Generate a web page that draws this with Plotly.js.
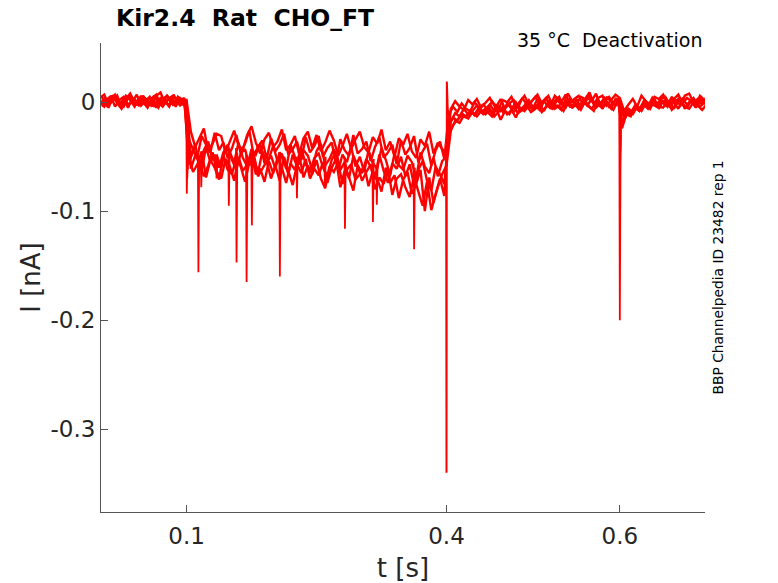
<!DOCTYPE html>
<html>
<head>
<meta charset="utf-8">
<script src="https://cdn.plot.ly/plotly-3.0.1.min.js"></script>
<style>body{margin:0;background:#fff}</style>
</head>
<body>
<div id="chart" style="width:778px;height:583px"></div>
<script>
// sample times [s] of the two interleaved acquisition grids, one row = 10 samples
var tA = [
  0, 0.005, 0.01, 0.015, 0.02, 0.025, 0.03, 0.035, 0.04, 0.045,
  0.05, 0.055, 0.06, 0.065, 0.07, 0.075, 0.08, 0.085, 0.09, 0.095,
  0.1, 0.105, 0.11, 0.115, 0.12, 0.125, 0.13, 0.135, 0.14, 0.145,
  0.15, 0.155, 0.16, 0.165, 0.17, 0.175, 0.18, 0.185, 0.19, 0.195,
  0.2, 0.205, 0.21, 0.215, 0.22, 0.225, 0.23, 0.235, 0.24, 0.245,
  0.25, 0.255, 0.26, 0.265, 0.27, 0.275, 0.28, 0.285, 0.29, 0.295,
  0.3, 0.305, 0.31, 0.315, 0.32, 0.325, 0.33, 0.335, 0.34, 0.345,
  0.35, 0.355, 0.36, 0.365, 0.37, 0.375, 0.38, 0.385, 0.39, 0.395,
  0.4, 0.405, 0.41, 0.415, 0.42, 0.425, 0.43, 0.435, 0.44, 0.445,
  0.45, 0.455, 0.46, 0.465, 0.47, 0.475, 0.48, 0.485, 0.49, 0.495,
  0.5, 0.505, 0.51, 0.515, 0.52, 0.525, 0.53, 0.535, 0.54, 0.545,
  0.55, 0.555, 0.56, 0.565, 0.57, 0.575, 0.58, 0.585, 0.59, 0.595,
  0.6, 0.605, 0.61, 0.615, 0.62, 0.625, 0.63, 0.635, 0.64, 0.645,
  0.65, 0.655, 0.66, 0.665, 0.67, 0.675, 0.68, 0.685, 0.69, 0.695,
  0.7
];
var tB = [
  0.0025, 0.0075, 0.0125, 0.0175, 0.0225, 0.0275, 0.0325, 0.0375, 0.0425, 0.0475,
  0.0525, 0.0575, 0.0625, 0.0675, 0.0725, 0.0775, 0.0825, 0.0875, 0.0925, 0.0975,
  0.1025, 0.1075, 0.1125, 0.1175, 0.1225, 0.1275, 0.1325, 0.1375, 0.1425, 0.1475,
  0.1525, 0.1575, 0.1625, 0.1675, 0.1725, 0.1775, 0.1825, 0.1875, 0.1925, 0.1975,
  0.2025, 0.2075, 0.2125, 0.2175, 0.2225, 0.2275, 0.2325, 0.2375, 0.2425, 0.2475,
  0.2525, 0.2575, 0.2625, 0.2675, 0.2725, 0.2775, 0.2825, 0.2875, 0.2925, 0.2975,
  0.3025, 0.3075, 0.3125, 0.3175, 0.3225, 0.3275, 0.3325, 0.3375, 0.3425, 0.3475,
  0.3525, 0.3575, 0.3625, 0.3675, 0.3725, 0.3775, 0.3825, 0.3875, 0.3925, 0.3975,
  0.4025, 0.4075, 0.4125, 0.4175, 0.4225, 0.4275, 0.4325, 0.4375, 0.4425, 0.4475,
  0.4525, 0.4575, 0.4625, 0.4675, 0.4725, 0.4775, 0.4825, 0.4875, 0.4925, 0.4975,
  0.5025, 0.5075, 0.5125, 0.5175, 0.5225, 0.5275, 0.5325, 0.5375, 0.5425, 0.5475,
  0.5525, 0.5575, 0.5625, 0.5675, 0.5725, 0.5775, 0.5825, 0.5875, 0.5925, 0.5975,
  0.6025, 0.6075, 0.6125, 0.6175, 0.6225, 0.6275, 0.6325, 0.6375, 0.6425, 0.6475,
  0.6525, 0.6575, 0.6625, 0.6675, 0.6725, 0.6775, 0.6825, 0.6875, 0.6925, 0.6975,
  0.7025
];

// current sweeps [nA] on grid A
var sweep1 = [
  0.004, 0.007, -0.002, 0.001, 0.006, -0.004, 0.003, 0.008, 0.000, -0.003,
  0.005, 0.002, -0.004, 0.006, 0.009, -0.001, 0.003, -0.003, 0.005, 0.001,
  0.002, -0.027, -0.041, -0.033, -0.024, -0.045, -0.038, -0.029, -0.031, -0.046,
  -0.035, -0.026, -0.040, -0.043, -0.030, -0.022, -0.037, -0.047, -0.034, -0.028,
  -0.041, -0.036, -0.025, -0.044, -0.039, -0.031, -0.048, -0.033, -0.027, -0.042,
  -0.030, -0.045, -0.037, -0.026, -0.035, -0.049, -0.040, -0.029, -0.043, -0.034,
  -0.027, -0.041, -0.046, -0.032, -0.038, -0.025, -0.044, -0.036, -0.050, -0.033,
  -0.039, -0.029, -0.045, -0.051, -0.034, -0.040, -0.027, -0.047, -0.037, -0.043,
  -0.046, -0.006, 0.001, -0.004, -0.007, 0.002, -0.002, 0.003, -0.005, 0.000,
  0.004, -0.003, -0.006, 0.002, 0.000, 0.005, -0.004, 0.001, 0.006, -0.002,
  0.003, 0.007, -0.001, 0.004, -0.003, 0.006, 0.002, -0.002, 0.008, 0.001,
  -0.002, 0.005, 0.003, 0.009, -0.001, 0.004, 0.006, -0.003, 0.002, 0.007,
  0.004, -0.008, -0.002, 0.003, -0.004, 0.006, 0.001, -0.002, 0.005, 0.003,
  0.007, -0.001, 0.004, 0.002, -0.003, 0.006, 0.008, 0.000, 0.003, -0.002,
  0.005
];
var sweep3 = [
  -0.002, 0.003, -0.005, 0.005, 0.001, -0.003, 0.006, 0.002, -0.004, 0.004,
  0.000, -0.005, 0.004, 0.007, -0.002, 0.001, -0.004, 0.005, 0.003, -0.002,
  -0.003, -0.050, -0.039, -0.058, -0.044, -0.036, -0.053, -0.049, -0.060, -0.041,
  -0.046, -0.055, -0.037, -0.051, -0.059, -0.043, -0.048, -0.038, -0.056, -0.052,
  -0.040, -0.054, -0.047, -0.061, -0.039, -0.050, -0.057, -0.044, -0.049, -0.062,
  -0.045, -0.038, -0.058, -0.052, -0.043, -0.063, -0.048, -0.055, -0.041, -0.059,
  -0.050, -0.064, -0.044, -0.056, -0.061, -0.042, -0.053, -0.067, -0.047, -0.058,
  -0.062, -0.049, -0.055, -0.070, -0.046, -0.059, -0.065, -0.051, -0.068, -0.054,
  -0.050, -0.018, -0.010, -0.013, -0.006, -0.011, -0.008, -0.003, -0.009, -0.006,
  -0.002, -0.008, -0.004, -0.009, -0.001, -0.006, 0.000, -0.007, -0.003, 0.002,
  -0.005, 0.003, -0.002, 0.004, -0.006, 0.001, 0.005, -0.003, 0.002, -0.004,
  0.003, -0.005, 0.000, 0.006, -0.002, 0.002, -0.006, 0.004, 0.001, -0.003,
  0.002, -0.016, -0.009, -0.011, -0.004, -0.007, 0.001, -0.004, 0.003, -0.006,
  0.001, -0.004, 0.005, -0.002, 0.003, -0.006, 0.000, 0.004, -0.003, 0.002,
  0.000
];
var sweep5 = [
  0.001, -0.004, 0.004, 0.006, -0.001, -0.006, 0.002, 0.005, -0.003, 0.000,
  0.006, -0.002, 0.001, -0.005, 0.004, 0.002, -0.003, 0.007, -0.001, 0.003,
  0.001, -0.061, -0.049, -0.055, -0.068, -0.058, -0.046, -0.064, -0.070, -0.052,
  -0.059, -0.072, -0.050, -0.063, -0.057, -0.047, -0.066, -0.061, -0.073, -0.054,
  -0.065, -0.051, -0.060, -0.074, -0.056, -0.062, -0.048, -0.069, -0.058, -0.066,
  -0.053, -0.070, -0.079, -0.059, -0.064, -0.055, -0.075, -0.062, -0.057, -0.071,
  -0.066, -0.058, -0.077, -0.063, -0.070, -0.082, -0.060, -0.074, -0.067, -0.088,
  -0.071, -0.064, -0.084, -0.075, -0.062, -0.100, -0.069, -0.092, -0.078, -0.066,
  -0.058, -0.026, -0.017, -0.019, -0.012, -0.015, -0.009, -0.013, -0.008, -0.011,
  -0.006, -0.013, -0.009, -0.004, -0.011, -0.007, -0.014, -0.005, -0.008, -0.003,
  -0.007, -0.002, -0.009, -0.004, 0.001, -0.006, -0.003, -0.008, 0.000, -0.005,
  -0.002, -0.007, 0.001, -0.004, -0.008, 0.002, -0.005, -0.001, -0.006, 0.003,
  -0.001, -0.012, -0.006, -0.009, -0.003, -0.008, -0.001, -0.006, 0.002, -0.004,
  -0.005, 0.001, -0.007, -0.002, 0.003, -0.004, -0.006, 0.000, -0.003, -0.007,
  -0.002
];

// current sweeps [nA] on grid B
var sweep2 = [
  0.003, -0.001, 0.006, -0.004, 0.002, 0.005, -0.002, 0.000, 0.007, -0.003,
  0.001, 0.005, -0.003, 0.003, -0.001, 0.006, 0.002, -0.004, 0.004, 0.000,
  -0.034, -0.043, -0.050, -0.031, -0.039, -0.046, -0.028, -0.044, -0.037, -0.051,
  -0.042, -0.030, -0.047, -0.038, -0.026, -0.049, -0.041, -0.035, -0.052, -0.033,
  -0.045, -0.039, -0.029, -0.048, -0.043, -0.036, -0.053, -0.032, -0.046, -0.040,
  -0.031, -0.050, -0.042, -0.037, -0.055, -0.034, -0.044, -0.049, -0.030, -0.047,
  -0.043, -0.036, -0.054, -0.041, -0.032, -0.051, -0.046, -0.039, -0.057, -0.035,
  -0.048, -0.042, -0.031, -0.055, -0.045, -0.038, -0.058, -0.044, -0.036, -0.052,
  -0.012, -0.004, -0.009, -0.001, -0.006, -0.008, 0.000, -0.005, -0.002, -0.007,
  0.001, -0.004, 0.003, -0.006, -0.001, 0.002, -0.005, 0.004, -0.002, 0.000,
  0.005, -0.002, 0.002, 0.006, -0.003, 0.004, 0.000, 0.007, -0.001, 0.003,
  0.006, -0.002, 0.004, 0.001, 0.008, -0.003, 0.003, 0.005, -0.001, 0.004,
  -0.024, -0.011, -0.013, -0.005, -0.008, 0.001, -0.004, 0.004, -0.002, 0.003,
  0.005, -0.002, 0.003, 0.007, -0.001, 0.004, 0.001, -0.003, 0.006, 0.002,
  0.003
];
var sweep4 = [
  -0.004, 0.002, 0.000, 0.005, -0.002, 0.003, -0.005, 0.004, 0.001, -0.001,
  0.003, -0.003, 0.006, 0.000, -0.004, 0.002, 0.005, -0.002, 0.001, 0.004,
  -0.057, -0.044, -0.052, -0.063, -0.041, -0.055, -0.048, -0.060, -0.046, -0.039,
  -0.053, -0.062, -0.047, -0.043, -0.058, -0.050, -0.065, -0.045, -0.056, -0.049,
  -0.061, -0.046, -0.054, -0.066, -0.048, -0.059, -0.042, -0.057, -0.064, -0.051,
  -0.047, -0.060, -0.068, -0.053, -0.045, -0.062, -0.055, -0.070, -0.049, -0.058,
  -0.065, -0.052, -0.059, -0.071, -0.048, -0.063, -0.074, -0.056, -0.061, -0.050,
  -0.068, -0.057, -0.076, -0.062, -0.054, -0.072, -0.081, -0.059, -0.066, -0.075,
  -0.030, -0.021, -0.016, -0.012, -0.014, -0.008, -0.011, -0.005, -0.009, -0.006,
  -0.010, -0.003, -0.008, -0.005, -0.001, -0.009, -0.004, -0.007, 0.000, -0.005,
  -0.003, -0.007, 0.001, -0.004, -0.006, 0.002, -0.002, -0.005, 0.003, -0.001,
  -0.006, 0.001, -0.003, 0.003, -0.005, -0.001, 0.004, -0.004, 0.000, 0.002,
  -0.018, -0.009, -0.012, -0.004, -0.008, -0.002, -0.006, 0.001, -0.004, -0.001,
  0.002, -0.004, 0.000, -0.006, 0.003, -0.002, 0.001, -0.005, 0.004, -0.001,
  -0.002
];
var sweep6 = [
  0.005, -0.003, 0.002, 0.007, -0.001, -0.004, 0.004, 0.001, -0.002, 0.006,
  -0.002, 0.004, 0.000, -0.005, 0.003, 0.006, -0.001, 0.002, -0.003, 0.001,
  -0.049, -0.064, -0.057, -0.045, -0.069, -0.053, -0.060, -0.071, -0.048, -0.062,
  -0.066, -0.051, -0.059, -0.073, -0.055, -0.047, -0.068, -0.061, -0.054, -0.070,
  -0.058, -0.072, -0.050, -0.063, -0.076, -0.057, -0.065, -0.052, -0.070, -0.061,
  -0.067, -0.055, -0.074, -0.060, -0.052, -0.078, -0.063, -0.069, -0.081, -0.058,
  -0.072, -0.064, -0.057, -0.080, -0.069, -0.075, -0.061, -0.085, -0.070, -0.066,
  -0.078, -0.087, -0.068, -0.082, -0.095, -0.073, -0.099, -0.084, -0.070, -0.086,
  -0.020, -0.014, -0.017, -0.010, -0.013, -0.008, -0.012, -0.007, -0.011, -0.009,
  -0.013, -0.006, -0.016, -0.008, -0.011, -0.004, -0.010, -0.007, -0.003, -0.009,
  -0.006, -0.002, -0.008, 0.000, -0.005, -0.003, -0.007, 0.001, -0.004, -0.002,
  -0.005, 0.002, -0.003, -0.006, 0.000, -0.004, 0.003, -0.002, -0.007, 0.001,
  -0.012, -0.007, -0.010, -0.003, -0.006, 0.000, -0.005, -0.002, -0.004, 0.002,
  -0.003, 0.001, -0.006, 0.003, -0.002, -0.005, 0.002, -0.001, -0.004, 0.000,
  -0.001
];

// brief downward events [s], [nA]
var spikeT     = [0.1003, 0.1008, 0.1012, 0.1137, 0.1170, 0.1346, 0.1488, 0.1577, 0.1693, 0.1754,
                  0.2077, 0.2274, 0.2597, 0.2828, 0.3151, 0.3196, 0.3626, 0.6000, 0.6003, 0.6006];
var spikeMin   = [-0.084, -0.070, -0.062, -0.156, -0.078, -0.070, -0.095, -0.147, -0.165, -0.113,
                  -0.160, -0.088, -0.079, -0.116, -0.110, -0.094, -0.135, -0.200, -0.060, -0.045];
var spikeStart = [0.001, 0.000, -0.001, -0.045, -0.052, -0.050, -0.045, -0.042, -0.048, -0.050,
                  -0.046, -0.050, -0.052, -0.050, -0.055, -0.058, -0.056, 0.000, 0.002, 0.001];
var spikeEnd   = [-0.040, -0.052, -0.045, -0.050, -0.048, -0.055, -0.050, -0.046, -0.052, -0.045,
                  -0.050, -0.052, -0.050, -0.056, -0.052, -0.055, -0.060, -0.030, -0.024, -0.018];

// capacitive transient at the end of the step
var capT = [0.3996, 0.4, 0.4004, 0.4008, 0.4014, 0.4025];
var capI = [-0.052, -0.340, 0.019, 0.004, -0.006, -0.012];

var red = '#ff0000';
var ink = '#262626';
var data = [];

function addLine(x, y, w) {
  data.push({x: x, y: y, type: 'scatter', mode: 'lines',
             line: {color: red, width: w}, hoverinfo: 'skip'});
}

[sweep1, sweep3, sweep5].forEach(function (s) { addLine(tA, s, 2.4); });
[sweep2, sweep4, sweep6].forEach(function (s) { addLine(tB, s, 2.4); });

for (var i = 0; i < spikeT.length; i++) {
  addLine([spikeT[i] - 0.0006, spikeT[i], spikeT[i] + 0.0009],
          [spikeStart[i], spikeMin[i], spikeEnd[i]], 1.8);
}
addLine(capT, capI, 2);

var layout = {
  width: 778,
  height: 583,
  margin: {l: 101, r: 73, t: 43, b: 71},
  paper_bgcolor: '#fff',
  plot_bgcolor: '#fff',
  showlegend: false,
  font: {family: 'DejaVu Sans', color: ink},
  title: {
    text: 'Kir2.4\u00a0\u00a0Rat\u00a0\u00a0CHO_FT',
    font: {family: 'DejaVu Sans', size: 23.5, color: '#000', weight: 'bold'},
    xref: 'container', x: 116 / 778, xanchor: 'left',
    yref: 'container', y: 1 - 18 / 583, yanchor: 'middle'
  },
  xaxis: {
    range: [0.0013, 0.6983],
    tickvals: [0.1, 0.4, 0.6],
    ticktext: ['0.1', '0.4', '0.6'],
    ticks: 'inside', ticklen: 7, tickcolor: '#555', tickwidth: 1,
    showline: true, linecolor: '#555', linewidth: 1,
    showgrid: false, zeroline: false,
    ticklabelstandoff: 3,
    tickfont: {size: 23, color: ink},
    title: {text: 't [s]', font: {size: 26, color: ink}, standoff: 12}
  },
  yaxis: {
    range: [-0.3761, 0.0544],
    tickvals: [0, -0.1, -0.2, -0.3],
    ticktext: ['0', '-0.1', '-0.2', '-0.3'],
    ticks: 'inside', ticklen: 7, tickcolor: '#555', tickwidth: 1,
    showline: true, linecolor: '#555', linewidth: 1,
    showgrid: false, zeroline: false,
    tickfont: {size: 23, color: ink},
    title: {text: 'I [nA]', font: {size: 26, color: ink}, standoff: 2}
  },
  annotations: [
    {text: '35 \u00b0C\u00a0\u00a0Deactivation', showarrow: false,
     xref: 'paper', yref: 'paper', x: 0.998, y: 1.006,
     xanchor: 'right', yanchor: 'middle',
     font: {size: 19, color: '#000'}},
    {text: 'BBP Channelpedia ID 23482 rep 1', showarrow: false, textangle: -90,
     xref: 'paper', yref: 'paper', x: (717 - 101) / 604, y: 0.5,
     xanchor: 'center', yanchor: 'middle',
     font: {size: 13.8, color: '#000'}}
  ]
};

Plotly.newPlot('chart', data, layout, {displayModeBar: false, staticPlot: true});
</script>
</body>
</html>
